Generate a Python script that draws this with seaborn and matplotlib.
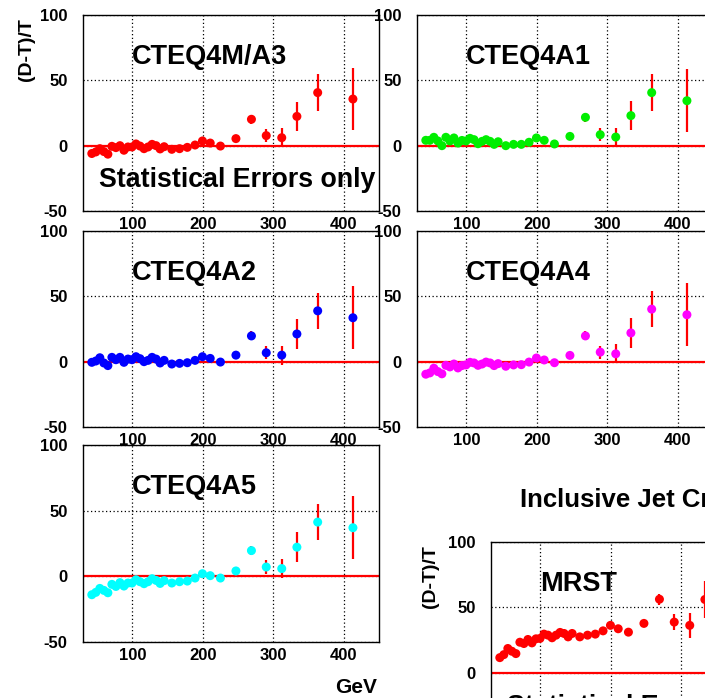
import numpy as np
import pandas as pd
import matplotlib
matplotlib.use("Agg")
import matplotlib.pyplot as plt
import seaborn as sns
from matplotlib.ticker import MultipleLocator

# ---------------- data ----------------
et = [42.5, 48.2, 53.9, 59.6, 65.3, 71.0, 76.7, 82.4, 88.1, 93.8, 99.5, 105.2,
      110.9, 116.6, 122.3, 128.0, 133.7, 139.4, 145.1, 156.0, 167.0, 178.0,
      189.0, 199.5, 210.5, 225.0, 247.0, 269.0, 290.0, 312.0, 333.5, 363.0, 413.0]

stat_err = [0.7, 0.7, 0.7, 0.7, 0.7, 0.7, 0.7, 0.7, 0.7, 0.7, 0.7, 0.7,
            0.7, 0.7, 0.7, 0.7, 0.7, 0.7, 0.8, 0.9, 1.0, 1.0,
            1.1, 1.2, 1.3, 1.5, 1.8, 3.5, 5.0, 7.2, 11.2, 14.0, 24.0]

cteq4m_a3 = [-6.0, -4.8, -2.3, -4.5, -6.5, -0.5, -1.5, 0.0, -3.5, -1.0, -1.0, 1.3,
             -0.3, -2.3, -1.0, 1.0, 0.0, -2.5, -0.8, -2.8, -2.3, -1.3,
             0.5, 3.6, 2.0, -0.3, 5.4, 20.2, 7.7, 6.1, 22.4, 40.6, 35.7]

cteq4a1 = [4.1, 4.1, 6.4, 3.6, 0.0, 6.4, 3.6, 5.9, 2.0, 4.0, 3.6, 5.6,
           4.6, 1.5, 3.3, 4.6, 3.3, 1.0, 3.0, 0.0, 1.0, 1.0,
           2.6, 5.9, 4.1, 1.3, 7.1, 21.7, 8.4, 6.6, 23.0, 40.6, 34.4]

cteq4a2 = [-0.5, 0.5, 3.0, -1.0, -3.0, 3.3, 1.5, 3.3, -0.5, 2.0, 1.5, 3.8,
           2.3, 0.0, 1.0, 3.3, 2.0, -1.0, 1.0, -1.8, -1.3, -0.8,
           1.0, 3.8, 2.5, -0.3, 5.0, 19.7, 6.8, 5.0, 21.2, 38.9, 33.6]

cteq4a4 = [-9.6, -8.6, -5.0, -7.6, -9.3, -2.8, -4.0, -1.8, -4.8, -3.0, -2.5, -0.5,
           -1.0, -2.8, -1.8, -0.3, -1.0, -3.0, -1.5, -3.5, -2.5, -2.3,
           -0.3, 2.8, 1.3, -0.8, 4.8, 19.7, 7.3, 6.0, 22.0, 40.2, 35.9]

cteq4a5 = [-14.0, -12.2, -9.2, -10.7, -12.5, -6.1, -7.7, -4.8, -7.4, -5.1, -5.1, -2.6,
           -4.1, -5.6, -4.1, -1.8, -3.1, -5.4, -3.3, -5.1, -4.1, -3.6,
           -1.3, 2.0, 0.5, -1.3, 4.1, 19.6, 7.1, 5.9, 22.2, 41.3, 37.0]

# MRST: only the points visible inside the cropped picture
mrst = [11.5, 13.8, 18.5, 16.4, 14.6, 23.3, 22.3, 25.4, 22.8, 25.9, 26.2, 29.5,
        28.7, 26.7, 28.7, 30.8, 30.0, 27.4, 30.0, 27.4, 28.7, 29.5,
        32.0, 36.2, 33.6, 31.0, 37.7, 56.2, 38.7, 36.2, 56.0]
mrst_err = [0.8, 0.8, 0.8, 0.8, 0.8, 0.8, 0.8, 0.8, 0.8, 0.8, 0.8, 0.8,
            0.8, 0.8, 0.8, 0.8, 0.8, 0.8, 0.9, 1.0, 1.1, 1.2,
            1.3, 1.4, 1.5, 1.7, 2.0, 4.2, 6.4, 9.4, 14.0]

x_ticks = [100, 200, 300, 400]
y_ticks = [-50, 0, 50, 100]

# ---------------- style ----------------
sns.set_style("white")
plt.rcParams["font.family"] = ["Liberation Sans", "DejaVu Sans"]
plt.rcParams["font.weight"] = "bold"
plt.rcParams["text.color"] = "black"
plt.rcParams["axes.labelcolor"] = "black"
plt.rcParams["xtick.color"] = "black"
plt.rcParams["ytick.color"] = "black"
plt.rcParams["axes.unicode_minus"] = False

W, H = 705, 698
fig = plt.figure(figsize=(W / 100, H / 100), dpi=100)


def rect(left, top, w=296, h=196):
    return [left / W, 1 - (top + h) / H, w / W, h / H]


panels = [
    ("CTEQ4M/A3", cteq4m_a3, stat_err, "#ff0000", rect(83, 15)),
    ("CTEQ4A1", cteq4a1, stat_err, "#00ee00", rect(417, 15)),
    ("CTEQ4A2", cteq4a2, stat_err, "#0000ff", rect(83, 231)),
    ("CTEQ4A4", cteq4a4, stat_err, "#ff00ff", rect(417, 231)),
    ("CTEQ4A5", cteq4a5, stat_err, "#00ffff", rect(83, 445, h=197)),
    ("MRST", mrst, mrst_err, "#ff0000", rect(491, 542)),
]

axes = {}
for name, vals, errs, col, r in panels:
    ax = fig.add_axes(r)
    n = len(vals)
    df = pd.DataFrame({"et": et[:n], "diff": vals, "err": errs})
    ax.errorbar(df["et"], df["diff"], yerr=df["err"], fmt="none",
                ecolor="red", elinewidth=1.6, capsize=0, zorder=3)
    sns.scatterplot(data=df, x="et", y="diff", color=col, s=42,
                    edgecolor="none", linewidth=0, ax=ax, zorder=4, legend=False)
    ax.axhline(0, color="red", lw=1.6, zorder=2)
    ax.set_xlim(30, 450)
    ax.set_ylim(-50, 100)
    ax.set_xlabel("")
    ax.set_ylabel("")
    ax.set_xticks(x_ticks)
    ax.set_yticks(y_ticks)
    ax.xaxis.set_minor_locator(MultipleLocator(20))
    ax.yaxis.set_minor_locator(MultipleLocator(10))
    ax.tick_params(axis="y", which="major", direction="in", length=6, width=0.8,
                   pad=11, labelsize=12, colors="black")
    ax.tick_params(axis="y", which="minor", direction="in", length=5, width=0.8,
                   colors="black")
    ax.tick_params(axis="x", which="major", direction="in", length=5, width=0.8,
                   pad=4, labelsize=12, colors="black")
    ax.tick_params(axis="x", which="minor", direction="in", length=2.5, width=0.8,
                   colors="black")
    for lab in ax.get_xticklabels() + ax.get_yticklabels():
        lab.set_fontweight("bold")
    ax.grid(True, which="major", color="black", linestyle=(0, (1, 2)),
            linewidth=0.9)
    ax.set_axisbelow(True)
    for sp in ax.spines.values():
        sp.set_color("black")
        sp.set_linewidth(1.0)
    ax.text(100, 62.5, name, fontsize=19.5, fontweight="bold", ha="left",
            va="baseline", zorder=5, color="black")
    axes[name] = ax

for key in ("CTEQ4M/A3", "MRST"):
    axes[key].text(52.5, -31.5, "Statistical Errors only", fontsize=19.3,
                   fontweight="bold", ha="left", va="baseline", zorder=5,
                   clip_on=False, color="black")

fig.text(26 / W, 1 - 50 / H, "(D-T)/T", rotation=90, fontsize=14,
         fontweight="bold", ha="center", va="center", color="black")
fig.text(431 / W, 1 - 577 / H, "(D-T)/T", rotation=90, fontsize=14,
         fontweight="bold", ha="center", va="center", color="black")
fig.text(377 / W, 1 - 693 / H, "GeV", fontsize=15, fontweight="bold",
         ha="right", va="baseline", color="black")
fig.text(520 / W, 1 - 507 / H, "Inclusive Jet Cross Section", fontsize=18.5,
         fontweight="bold", ha="left", va="baseline", color="black")

fig.savefig("out.png", dpi=100)
